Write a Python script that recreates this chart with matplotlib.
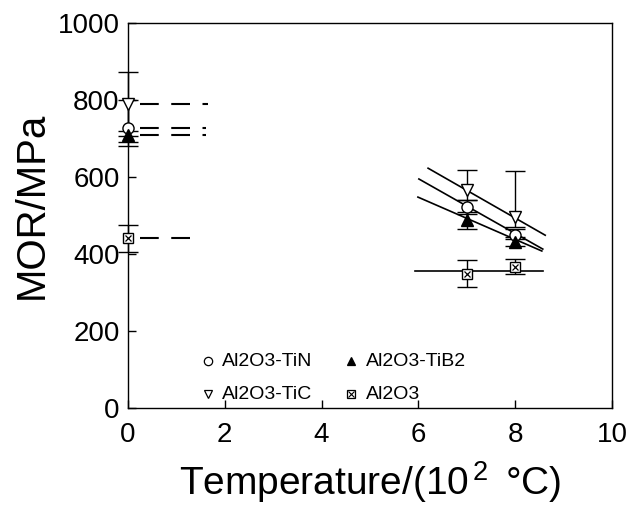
import matplotlib
matplotlib.use("Agg")
import matplotlib.pyplot as plt
import numpy as np

plt.rcParams['font.family'] = ['Liberation Sans', 'DejaVu Sans']
plt.rcParams['mathtext.fontset'] = 'custom'
plt.rcParams['mathtext.rm'] = 'Liberation Sans'
plt.rcParams['mathtext.it'] = 'Liberation Sans'

# Data
temps = [0, 7, 8]
tin = [727, 522, 449]
tin_lo = [681, 505, 438]
tin_hi = [800, 540, 465]
tib2 = [708, 488, 431]
tib2_lo = [690, 465, 420]
tib2_hi = [720, 509, 445]
tic = [790, 566, 496]
tic_lo = [706, 540, 470]
tic_hi = [873, 618, 616]
al2o3 = [441, 348, 366]
al2o3_lo = [405, 314, 348]
al2o3_hi = [475, 384, 387]

# Fit lines at high temperature
tic_fit_x = [6.2, 8.62]
tic_fit_y = [623, 449]
tin_fit_x = [6.01, 8.57]
tin_fit_y = [595, 413]
tib2_fit_x = [5.99, 8.55]
tib2_fit_y = [548, 408]
al2o3_fit_x = [5.93, 8.57]
al2o3_fit_y = [357, 357]

# Room-temperature dashed reference lines
dash_end = {'tic': 1.65, 'tin': 1.61, 'tib2': 1.61, 'al2o3': 1.53}

fig = plt.figure(figsize=(6.29, 5.07), dpi=100)
ax = fig.add_axes([0.2035, 0.195, 0.7695, 0.7596])

lw = 1.2
for fx, fy in [(tic_fit_x, tic_fit_y), (tin_fit_x, tin_fit_y),
               (tib2_fit_x, tib2_fit_y), (al2o3_fit_x, al2o3_fit_y)]:
    ax.plot(fx, fy, color='black', lw=lw)

for key, vals in [('tic', tic), ('tin', tin), ('tib2', tib2), ('al2o3', al2o3)]:
    ax.plot([0.25, dash_end[key]], [vals[0], vals[0]], color='black', lw=1.5,
            dashes=(9, 6))

def eb(y, lo, hi):
    y = np.array(y); lo = np.array(lo); hi = np.array(hi)
    ax.errorbar(temps, y, yerr=[y - lo, hi - y], fmt='none', ecolor='black',
                elinewidth=1.0, capsize=7, capthick=1.0, clip_on=False)

eb(tic, tic_lo, tic_hi)
eb(tin, tin_lo, tin_hi)
eb(tib2, tib2_lo, tib2_hi)
eb(al2o3, al2o3_lo, al2o3_hi)

ms = 8
ax.plot(temps, tic, linestyle='none', marker='v', ms=ms, mfc='white', mec='black',
        mew=1.0, clip_on=False, zorder=5)
ax.plot(temps, tin, linestyle='none', marker='o', ms=ms, mfc='white', mec='black',
        mew=1.0, clip_on=False, zorder=5)
ax.plot(temps, tib2, linestyle='none', marker='^', ms=ms, mfc='black', mec='black',
        mew=1.0, clip_on=False, zorder=5)
ax.plot(temps, al2o3, linestyle='none', marker='s', ms=7, mfc='white', mec='black',
        mew=1.0, clip_on=False, zorder=5)
ax.plot(temps, al2o3, linestyle='none', marker='x', ms=5, mec='black',
        mew=0.9, clip_on=False, zorder=6)

ax.set_xlim(0, 10)
ax.set_ylim(0, 1000)
ax.set_xticks([0, 2, 4, 6, 8, 10])
ax.set_yticks([0, 200, 400, 600, 800, 1000])
ax.tick_params(direction='in', length=6, width=1.0, labelsize=20)
ax.tick_params(axis='x', pad=10)
ax.tick_params(axis='y', pad=6)
for s in ax.spines.values():
    s.set_linewidth(1.0)

fig.text(370 / 629, 1 - 482 / 507, r'Temperature/(10$^{\,2}$ $\,$°C)', fontsize=28,
         ha='center', va='center')
fig.text(32 / 629, 1 - 205 / 507, 'MOR/MPa', fontsize=29, rotation=90,
         ha='center', va='center')

# In-plot legend
fs = 14
leg_items = [
    (0.165, 0.122, 'o', 'white', 'Al2O3-TiN'),
    (0.461, 0.122, '^', 'black', 'Al2O3-TiB2'),
    (0.165, 0.036, 'v', 'white', 'Al2O3-TiC'),
    (0.461, 0.036, 's', 'white', 'Al2O3'),
]
for x, y, m, fc, label in leg_items:
    ax.plot([x], [y], transform=ax.transAxes, marker=m, ms=6, mfc=fc, mec='black',
            mew=0.9, linestyle='none')
    if m == 's':
        ax.plot([x], [y], transform=ax.transAxes, marker='x', ms=4, mec='black',
                mew=0.8, linestyle='none')
    ax.text(x + 0.03, y, label, transform=ax.transAxes, fontsize=fs,
            va='center', ha='left')

fig.savefig('out.png', dpi=100)
